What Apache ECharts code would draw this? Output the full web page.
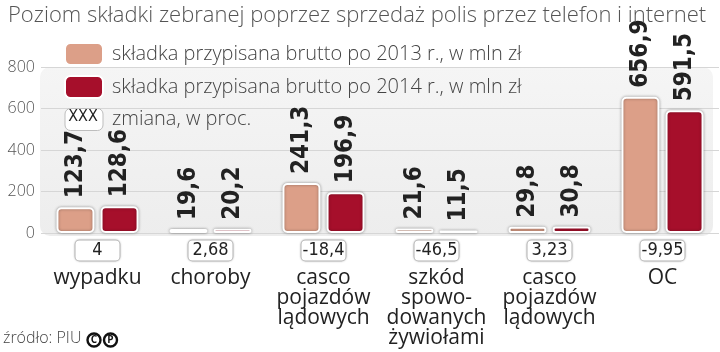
<!DOCTYPE html>
<html>
<head>
<meta charset="utf-8">
<script src="https://cdn.jsdelivr.net/npm/echarts@6/dist/echarts.min.js"></script>
<style>
  html, body { margin: 0; padding: 0; background: #fff; }
  #chart { width: 720px; height: 352px; }
</style>
</head>
<body>
<div id="chart"></div>
<script>
const categories = ['wypadku', 'choroby', 'casco\npojazdów\nlądowych', 'szkód\nspowo-\ndowanych\nżywiołami', 'casco\npojazdów\nlądowych', 'OC'];
const premium2013 = [123.7, 19.6, 241.3, 21.6, 29.8, 656.9];
const premium2014 = [128.6, 20.2, 196.9, 11.5, 30.8, 591.5];
const changePct = [4, 2.68, -18.4, -46.5, 3.23, -9.95];
const yTicks = [0, 200, 400, 600, 800];

const TEXT_FONT = '"Open Sans", "Noto Sans", sans-serif';
const NUM_FONT = '"DejaVu Sans Condensed", "Liberation Sans Narrow", sans-serif';

const comma = (v) => String(v).replace('.', ',');

const barStyle = (color) => ({
  color,
  borderColor: '#ffffff',
  borderWidth: 2,
  borderRadius: 4,
  shadowBlur: 3,
  shadowColor: 'rgba(0, 0, 0, 0.35)'
});

const valueLabel = {
  show: true,
  position: 'top',
  rotate: 90,
  align: 'left',
  verticalAlign: 'middle',
  distance: 9,
  fontFamily: NUM_FONT,
  fontWeight: 'bold',
  fontSize: 24,
  color: '#222222',
  formatter: (p) => p.value.toFixed(1).replace('.', ',')
};

const chart = echarts.init(document.getElementById('chart'), null, { renderer: 'canvas' });

chart.setOption({
  animation: false,
  title: {
    text: 'Poziom składki zebranej poprzez sprzedaż polis przez telefon i internet',
    left: 3,
    top: 0,
    textStyle: { fontFamily: TEXT_FONT, fontSize: 22, fontWeight: 300, color: '#555555' }
  },
  legend: {
    orient: 'vertical',
    left: 64,
    top: 42,
    padding: 0,
    itemWidth: 38,
    itemHeight: 22,
    itemGap: 9,
    selectedMode: false,
    textStyle: { fontFamily: TEXT_FONT, fontSize: 20, fontWeight: 300, color: '#444444', lineHeight: 22, padding: [0, 0, 0, 4] },
    data: [
      { name: 'składka przypisana brutto po 2013 r., w mln zł', icon: 'roundRect' },
      { name: 'składka przypisana brutto po 2014 r., w mln zł', icon: 'roundRect' },
      { name: 'zmiana, w proc.', icon: 'roundRect', itemStyle: { color: '#ffffff', borderColor: '#bdbdbd', borderWidth: 1 } }
    ]
  },
  graphic: [
    {
      type: 'rect',
      left: 40,
      top: 67,
      z: -1,
      shape: { width: 673, height: 169, r: 10 },
      style: {
        fill: new echarts.graphic.LinearGradient(0, 0, 0, 1, [
          { offset: 0, color: '#f5f5f5' },
          { offset: 1, color: '#ededed' }
        ])
      }
    },
    {
      type: 'text',
      x: 83,
      y: 117,
      z: 10,
      style: { text: 'XXX', align: 'center', verticalAlign: 'middle', fontFamily: NUM_FONT, fontSize: 16, fill: '#222222' }
    },
    {
      type: 'text',
      left: 3,
      top: 330,
      style: { text: 'źródło: PIU', fontFamily: TEXT_FONT, fontSize: 16, fontWeight: 300, fill: '#444444' }
    },
    {
      type: 'group',
      left: 85,
      top: 331,
      children: [
        { type: 'circle', shape: { cx: 7.5, cy: 7.5, r: 6.5 }, style: { fill: 'none', stroke: '#111111', lineWidth: 2.4 } },
        { type: 'text', x: 7.5, y: 7.8, style: { text: 'C', align: 'center', verticalAlign: 'middle', fontFamily: TEXT_FONT, fontWeight: 'bold', fontSize: 10, fill: '#111111' } },
        { type: 'circle', shape: { cx: 24, cy: 7.5, r: 6.5 }, style: { fill: 'none', stroke: '#111111', lineWidth: 2.4 } },
        { type: 'text', x: 24, y: 7.8, style: { text: 'P', align: 'center', verticalAlign: 'middle', fontFamily: TEXT_FONT, fontWeight: 'bold', fontSize: 10, fill: '#111111' } }
      ]
    }
  ],
  grid: { left: 41, right: 1, top: 67, bottom: 119 },
  xAxis: {
    type: 'category',
    data: categories,
    axisLine: { show: false },
    axisTick: { show: false },
    axisLabel: {
      interval: 0,
      margin: 0,
      formatter: (value, idx) => {
        const lines = value.split('\n').map((l) => '{name|' + l + '}');
        return ['{box|' + comma(changePct[idx]) + '}'].concat(lines).join('\n');
      },
      rich: {
        box: {
          fontFamily: NUM_FONT,
          fontSize: 18,
          color: '#222222',
          backgroundColor: '#ffffff',
          borderColor: '#c4c4c4',
          borderWidth: 1,
          borderRadius: 4,
          width: 36,
          align: 'center',
          padding: [1, 4],
          lineHeight: 35,
          shadowBlur: 2,
          shadowColor: 'rgba(0, 0, 0, 0.2)'
        },
        name: {
          fontFamily: TEXT_FONT,
          fontSize: 21,
          color: '#222222',
          lineHeight: 20,
          align: 'center'
        }
      }
    }
  },
  yAxis: {
    type: 'value',
    min: yTicks[0],
    max: yTicks[yTicks.length - 1],
    interval: yTicks[1] - yTicks[0],
    axisLine: { show: false },
    axisTick: { show: false },
    axisLabel: { margin: 6, fontFamily: TEXT_FONT, fontSize: 16, fontWeight: 300, color: '#555555' },
    splitLine: { lineStyle: { color: '#d6d6d6', width: 1 } }
  },
  series: [
    {
      name: 'składka przypisana brutto po 2013 r., w mln zł',
      type: 'bar',
      data: premium2013,
      barWidth: 38,
      barGap: '16%',
      itemStyle: barStyle('#dc9f88'),
      label: valueLabel
    },
    {
      name: 'składka przypisana brutto po 2014 r., w mln zł',
      type: 'bar',
      data: premium2014,
      barWidth: 38,
      barGap: '16%',
      itemStyle: barStyle('#a60f2b'),
      label: valueLabel
    },
    {
      name: 'zmiana, w proc.',
      type: 'line',
      data: []
    }
  ]
});
</script>
</body>
</html>
